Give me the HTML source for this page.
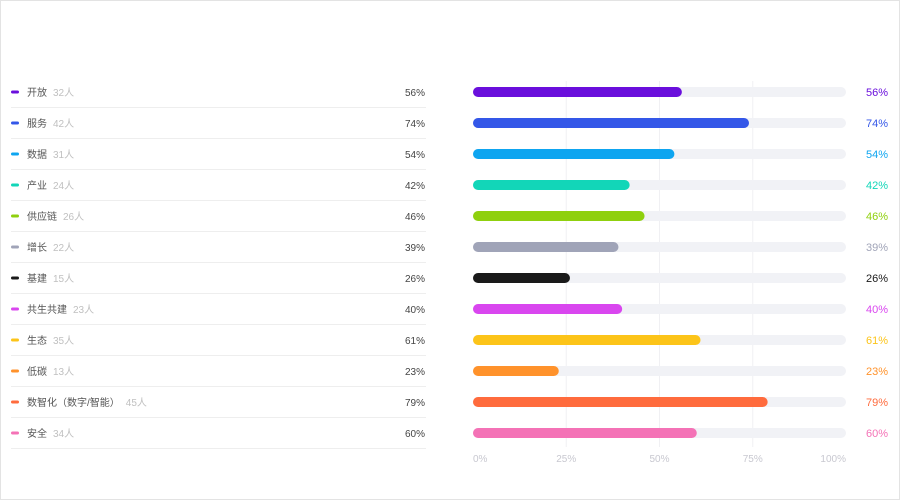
<!DOCTYPE html>
<html><head><meta charset="utf-8"><style>
body{margin:0;background:#fff;font-family:"Liberation Sans","Noto Sans CJK SC",sans-serif;}
#wrap{position:relative;width:898px;height:498px;border:1px solid #e3e3e3;overflow:hidden;}
svg{position:absolute;left:0;top:0;}
</style></head><body>
<div id="wrap">
<svg id="chart" width="900" height="500"></svg>
</div>
<script>
const categories=["开放","服务","数据","产业","供应链","增长","基建","共生共建","生态","低碳","数智化（数字/智能）","安全"];
const counts=[32,42,31,24,26,22,15,23,35,13,45,34];
const percents=[56,74,54,42,46,39,26,40,61,23,79,60];
const colors=["#6a0fdc","#3457e8","#0ea5f0","#12d6b8","#8fd00e","#a0a4b8","#1a1a1a","#d946ef","#fcc419","#ff922b","#ff6b3d","#f472b6"];
const ticks=[0,25,50,75,100];
const NS="http://www.w3.org/2000/svg";
const svg=document.getElementById('chart');
const x0=472,x1=845,rowY0=91,rowStep=31;
const xs=v=>x0+(x1-x0)*v/100;
const ys=i=>rowY0+i*rowStep;
function mk(t,a,txt){const e=document.createElementNS(NS,t);for(const k in a)e.setAttribute(k,a[k]);if(txt!==undefined)e.textContent=txt;svg.appendChild(e);return e;}
ticks.forEach(t=>{
 if(t>0&&t<100){const g=mk('line',{x1:xs(t),x2:xs(t),y1:80,y2:446,stroke:'#f0f0f3','stroke-width':1});
 
 }
 const l=mk('text',{x:xs(t),y:461,'font-size':10,fill:'#c8c8d0','text-anchor':t===0?'start':(t===100?'end':'middle')},t+'%');
 
 
});
categories.forEach((c,i)=>{
 const y=ys(i);
 const m=mk('rect',{x:10,y:y-1.5,width:8,height:3,rx:1.5,fill:colors[i]});
 
 
 const t=mk('text',{x:26,y:y+4,'font-size':10,fill:'#555'});
 
 
 const s1=document.createElementNS(NS,'tspan');s1.textContent=c;t.appendChild(s1);
 const s2=document.createElementNS(NS,'tspan');s2.setAttribute('fill','#c0c0c0');s2.setAttribute('dx','6');s2.textContent=counts[i]+'人';t.appendChild(s2);
 const p=mk('text',{x:424,y:y+4,'font-size':10,fill:'#444','text-anchor':'end'},percents[i]+'%');
 
 
 const sep=mk('line',{x1:10,x2:425,y1:y+15.5,y2:y+15.5,stroke:'#eeeeee','stroke-width':1});
 
 
 const tr=mk('rect',{x:x0,y:y-5,width:x1-x0,height:10,rx:5,fill:'#f1f2f6'});
 
 
 const b=mk('rect',{x:x0,y:y-5,width:xs(percents[i])-x0,height:10,rx:5,fill:colors[i]});
 
 
 const v=mk('text',{x:887,y:y+4,'font-size':11,fill:colors[i],'text-anchor':'end'},percents[i]+'%');
 
 
});
</script>
</body></html>
